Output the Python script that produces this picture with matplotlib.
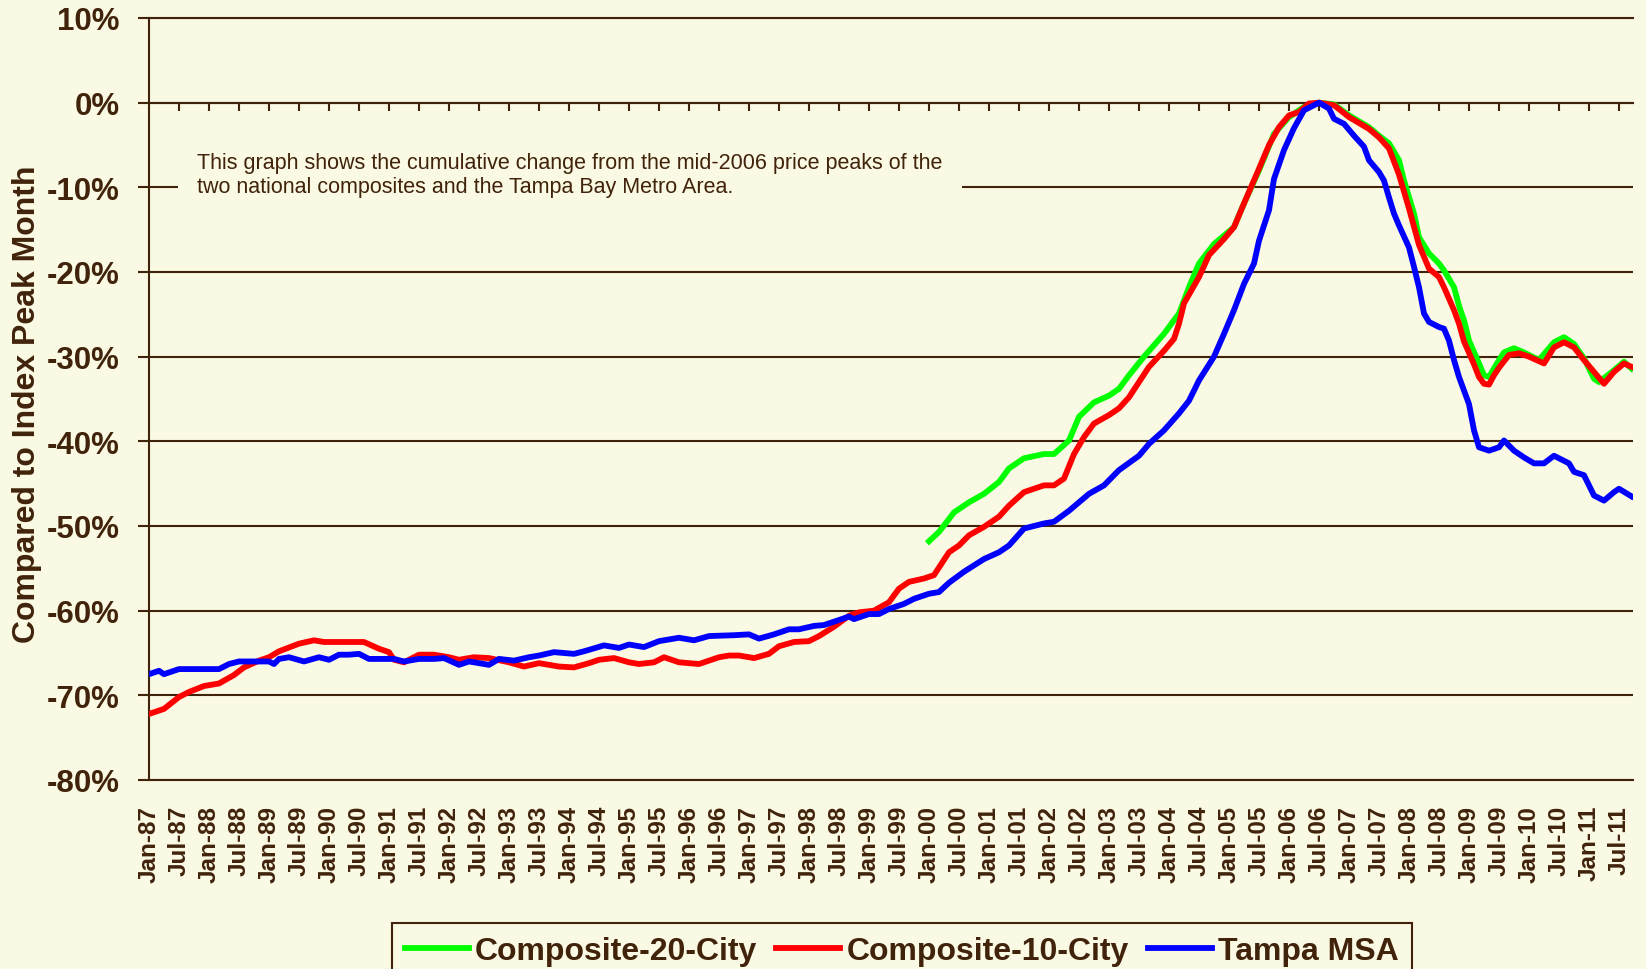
import matplotlib.pyplot as plt

# months counted from Jan-1987 (0) ; values in % vs. index peak month
red_month = [0, 3, 6, 8, 11, 14, 17, 19, 22, 24, 26, 30, 33, 35, 43, 46, 48, 49, 51, 54,
             57, 60, 62, 65, 68, 72, 75, 78, 82, 85, 88, 90, 93, 96, 98, 101, 103, 106, 110, 114,
             116, 118, 121, 124, 126, 129, 132, 134, 137, 140, 142, 145, 148, 150, 152, 155, 157, 158, 160, 162,
             164, 167, 170, 172, 175, 179, 181, 183, 185, 187, 189, 192, 194, 196, 198, 200, 203, 205, 206, 207,
             210, 212, 215, 217, 219, 222, 224, 226, 228, 230, 232, 234, 237, 240, 244, 246, 248, 250, 251, 252,
             254, 255, 256, 258, 259, 261, 262, 263, 265, 266, 267, 268, 269, 270, 272, 274, 276, 279, 281, 283,
             285, 287, 289, 291, 293, 295, 296.5]
red_pct = [-72.2, -71.6, -70.2, -69.6, -68.9, -68.6, -67.6, -66.7, -65.9, -65.5, -64.8, -63.9, -63.5, -63.7, -63.7, -64.5, -64.9, -65.8, -66.1, -65.2,
           -65.2, -65.5, -65.8, -65.5, -65.6, -66.1, -66.6, -66.2, -66.6, -66.7, -66.2, -65.8, -65.6, -66.1, -66.3, -66.1, -65.5, -66.1, -66.3, -65.5,
           -65.3, -65.3, -65.6, -65.1, -64.2, -63.7, -63.6, -63.0, -61.9, -60.6, -60.2, -60.0, -59.0, -57.4, -56.6, -56.2, -55.8, -54.9, -53.1, -52.3,
           -51.1, -50.1, -48.9, -47.6, -46.0, -45.2, -45.2, -44.4, -41.5, -39.5, -37.9, -36.9, -36.1, -34.8, -33.0, -31.2, -29.3, -27.9, -26.1, -23.7,
           -20.6, -18.0, -16.1, -14.7, -11.9, -7.8, -5.0, -2.9, -1.5, -1.1, -0.1, 0.0, -0.3, -1.7, -3.1, -4.1, -5.4, -8.5, -10.5, -12.5,
           -16.8, -18.2, -19.6, -20.6, -21.8, -24.5, -26.1, -28.2, -30.9, -32.4, -33.2, -33.3, -32.2, -31.3, -29.8, -29.6, -30.0, -30.8, -28.9, -28.3,
           -28.9, -30.4, -31.8, -33.2, -31.8, -30.8, -31.2]

blue_month = [0, 2, 3, 6, 14, 16, 18, 24, 25, 26, 28, 31, 34, 36, 38, 40, 42, 44, 49, 51,
              54, 57, 59, 62, 64, 68, 70, 73, 76, 78, 81, 85, 87, 91, 94, 96, 99, 102, 106, 109,
              112, 117, 120, 122, 125, 128, 130, 133, 135, 138, 140, 141, 144, 146, 148, 151, 153, 156, 158, 160,
              163, 167, 170, 172, 175, 179, 181, 184, 188, 191, 194, 198, 200, 203, 206, 208, 210, 213, 215, 217,
              219, 221, 222, 224, 225, 227, 229, 231, 234, 236, 237, 239, 241, 243, 244, 246, 247, 248, 249, 250,
              252, 253, 254, 255, 256, 258, 259, 260, 261, 262, 264, 265, 266, 268, 270, 271, 273, 275, 277, 279,
              281, 284, 285, 287, 288, 289, 291, 293, 294, 296.5]
blue_pct = [-67.5, -67.1, -67.5, -66.9, -66.9, -66.3, -66.0, -66.0, -66.3, -65.7, -65.5, -66.0, -65.5, -65.8, -65.2, -65.2, -65.1, -65.7, -65.7, -66.0,
            -65.7, -65.7, -65.6, -66.4, -66.0, -66.4, -65.7, -65.9, -65.5, -65.3, -64.9, -65.1, -64.8, -64.1, -64.4, -64.0, -64.3, -63.6, -63.2, -63.5,
            -63.0, -62.9, -62.8, -63.3, -62.8, -62.2, -62.2, -61.8, -61.7, -61.1, -60.7, -61.0, -60.4, -60.4, -59.8, -59.2, -58.6, -58.0, -57.8, -56.7,
            -55.4, -53.9, -53.1, -52.3, -50.3, -49.7, -49.5, -48.2, -46.2, -45.2, -43.4, -41.7, -40.3, -38.7, -36.7, -35.2, -32.8, -30.0, -27.3, -24.5,
            -21.4, -19.0, -16.3, -12.7, -9.0, -5.6, -3.0, -0.9, 0.0, -0.7, -1.9, -2.5, -3.9, -5.2, -6.8, -8.2, -9.2, -11.2, -13.1, -14.5,
            -17.1, -19.4, -21.8, -24.9, -25.9, -26.5, -26.7, -28.1, -30.4, -32.4, -35.6, -38.7, -40.7, -41.1, -40.7, -39.9, -41.1, -41.9, -42.6, -42.6,
            -41.7, -42.6, -43.6, -44.0, -45.2, -46.4, -47.0, -46.0, -45.6, -46.5]

green_month = [156, 158, 161, 164, 167, 170, 172, 175, 179, 181, 184, 186, 189, 192, 194, 196, 199, 203, 206, 208,
               210, 213, 217, 219, 222, 225, 228, 231, 234, 237, 240, 244, 246, 248, 250, 251, 253, 254, 256, 258,
               259, 261, 262, 263, 264, 266, 267, 268, 270, 271, 273, 275, 278, 281, 283, 285, 287, 289, 290, 293,
               295, 296.5]
green_pct = [-51.8, -50.7, -48.4, -47.2, -46.2, -44.8, -43.2, -42.0, -41.5, -41.5, -39.9, -37.1, -35.4, -34.6, -33.8, -32.2, -30.0, -27.3, -24.9, -21.8,
             -19.0, -16.7, -14.7, -11.9, -8.0, -3.7, -1.7, -0.5, 0.0, -0.2, -1.5, -2.9, -3.9, -4.8, -6.8, -9.2, -13.1, -15.9, -17.8, -19.0,
             -19.8, -21.8, -24.0, -25.7, -28.1, -30.8, -32.2, -32.4, -30.4, -29.5, -29.0, -29.5, -30.4, -28.3, -27.7, -28.5, -30.2, -32.6, -33.0, -31.6,
             -30.6, -31.4]

tick_month = list(range(0, 295, 6))
tick_labels = []
for m in tick_month:
    yr = (87 + m // 12) % 100
    tick_labels.append(("Jan-" if m % 12 == 0 else "Jul-") + f"{yr:02d}")

y_ticks = list(range(10, -81, -10))
y_labels = [f"{v}%" for v in y_ticks]

note = ("This graph shows the cumulative change from the mid-2006 price peaks of the\n"
        "two national composites and the Tampa Bay Metro Area.")

bg = "#FAF9E3"
brown = "#40230A"

plt.rcParams['font.family'] = ['Liberation Sans', 'DejaVu Sans']

fig = plt.figure(figsize=(16.46, 9.70), dpi=100, facecolor=bg)
ax = fig.add_axes([149 / 1646, 1 - 781 / 970, 1484 / 1646, 762 / 970])
ax.set_facecolor(bg)

ax.plot(green_month, green_pct, color="#00FF00", lw=4.2, label="Composite-20-City", zorder=3)
ax.plot(red_month, red_pct, color="#FF0000", lw=4.2, label="Composite-10-City", zorder=4)
ax.plot(blue_month, blue_pct, color="#0000FF", lw=4.2, label="Tampa MSA", zorder=5)

ax.set_xlim(0, 296.8)
ax.set_ylim(-80, 10)

ax.set_yticks(y_ticks)
ax.set_yticklabels(y_labels, fontsize=22.5, fontweight="bold", color=brown)
ax.tick_params(axis="y", direction="out", length=8, width=1.5, color=brown, pad=13)
ax.yaxis.grid(True, color=brown, lw=1.5)
ax.set_axisbelow(True)

ax.set_xticks(tick_month)
ax.set_xticklabels(tick_labels, rotation=90, fontsize=17.5, fontweight="bold", color=brown)
ax.tick_params(axis="x", length=0, pad=18)

for side in ["left", "top", "bottom"]:
    ax.spines[side].set_color(brown)
    ax.spines[side].set_linewidth(1.5)
ax.spines["right"].set_visible(False)

# tick marks sitting on the 0% line
zero_axis = ax.secondary_xaxis(80 / 90)
zero_axis.set_xticks(tick_month[1:])
zero_axis.set_xticklabels([])
zero_axis.tick_params(direction="in", length=6, width=1.5, color=brown)
zero_axis.spines["top"].set_color(brown)
zero_axis.spines["top"].set_linewidth(1.5)
zero_axis.spines["bottom"].set_visible(False)

fig.text(27 / 1646, 1 - 404 / 970, "Compared to Index Peak Month", rotation=90,
         ha="center", va="center", fontsize=23, fontweight="bold", color=brown)

fig.text(197 / 1646, 1 - 153 / 970, note, ha="left", va="top", fontsize=15.5,
         color=brown, linespacing=1.2,
         bbox=dict(facecolor=bg, edgecolor="none", pad=14))

leg = fig.legend(loc="upper left", bbox_to_anchor=(392 / 1646, 1 - 924 / 970), ncol=3,
                 borderaxespad=0, borderpad=0.4, handlelength=2.0, handletextpad=0.2,
                 columnspacing=0.6, fancybox=False, framealpha=1, facecolor=bg,
                 edgecolor=brown, prop={"weight": "bold", "size": 23})
leg.get_frame().set_linewidth(1.5)
for t in leg.get_texts():
    t.set_color(brown)

fig.savefig("out.png", dpi=100, facecolor=bg)
